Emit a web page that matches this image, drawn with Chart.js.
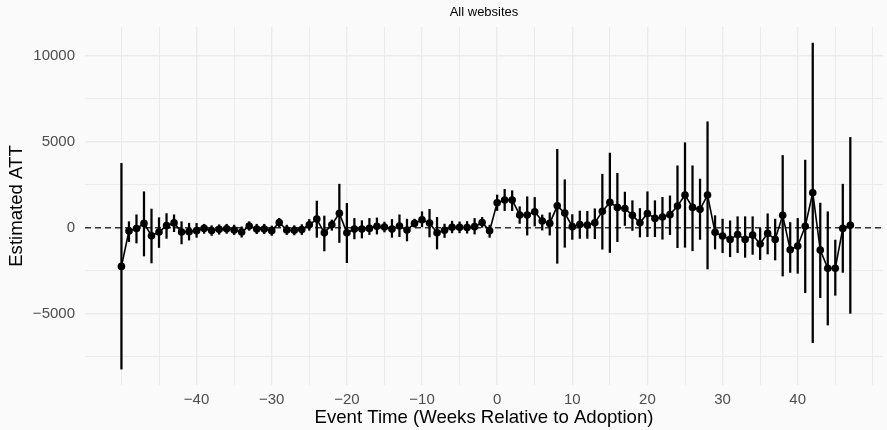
<!DOCTYPE html>
<html>
<head>
<meta charset="utf-8">
<script src="https://cdn.jsdelivr.net/npm/chart.js@4/dist/chart.umd.min.js"></script>
<style>
  html, body { margin: 0; padding: 0; background: #FAFAFA; }
  canvas { display: block; }
</style>
</head>
<body>
<canvas id="c" width="887" height="430"></canvas>
<script>
// ---- data ----
const eventTime = [-50,-49,-48,-47,-46,-45,-44,-43,-42,-41,-40,-39,-38,-37,-36,-35,-34,-33,-32,-31,
  -30,-29,-28,-27,-26,-25,-24,-23,-22,-21,-20,-19,-18,-17,-16,-15,-14,-13,-12,-11,
  -10,-9,-8,-7,-6,-5,-4,-3,-2,-1,0,1,2,3,4,5,6,7,8,9,
  10,11,12,13,14,15,16,17,18,19,20,21,22,23,24,25,26,27,28,29,
  30,31,32,33,34,35,36,37,38,39,40,41,42,43,44,45,46,47];
const att = [-2250,-190,-50,250,-465,-250,120,280,-250,-230,-170,-40,-160,-95,-60,-130,-250,100,-80,-80,
  -170,300,-130,-150,-110,170,500,-300,170,840,-300,-80,-80,-40,80,40,-80,100,-140,250,
  460,270,-290,-150,30,20,10,60,300,-180,1450,1610,1610,740,740,930,390,250,1270,850,
  60,180,160,290,950,1470,1180,1120,720,290,830,540,620,760,1260,1900,1180,1070,1900,-270,
  -485,-680,-400,-680,-430,-950,-330,-680,720,-1280,-1060,80,2035,-1300,-2360,-2360,-40,140];
const ciLower = [-8220,-810,-890,-1645,-2050,-1150,-620,-230,-940,-720,-560,-330,-450,-380,-330,-400,-550,-150,-350,-350,
  -450,0,-400,-420,-400,-150,-560,-1350,-150,-860,-2030,-650,-600,-400,-370,-250,-560,-520,-770,0,
  50,-540,-1240,-570,-300,-300,-320,-370,20,-560,1000,990,990,250,-430,100,-140,-430,-2070,-1140,
  -680,-620,-620,-640,-1250,-1440,-810,130,-160,-540,-520,-520,-670,-400,-1160,-1140,-1340,-680,-2400,-1240,
  -1450,-1690,-1450,-1720,-1550,-1850,-1530,-1880,-2810,-2600,-2650,-3780,-6690,-4070,-5660,-3930,-2600,-4980];
const ciUpper = [3740,350,750,2090,1085,580,820,750,350,260,250,200,120,170,200,150,50,350,200,200,
  100,550,150,120,180,480,1550,680,450,2530,1415,540,410,540,570,330,480,750,500,500,
  930,1070,600,210,380,340,360,540,600,150,1900,2230,2150,1220,1800,1760,740,870,4560,2790,
  760,970,950,1100,3110,4340,3160,2070,1570,1120,2090,1570,1770,1850,3600,4940,3600,2830,6160,700,
  500,400,640,640,640,-40,810,500,4200,300,540,3930,10740,1430,930,-720,2530,5250];

// ---- axes ----
const xGridValues = [-50,-45,-40,-35,-30,-25,-20,-15,-10,-5,0,5,10,15,20,25,30,35,40,45,50];
const xTickValues = [-40,-30,-20,-10,0,10,20,30,40];
const yGridValues = [-7500,-5000,-2500,0,2500,5000,7500,10000];
const yTickValues = [-5000,0,5000,10000];
const referenceValue = 0;

const chartTitle = 'All websites';
const xTitle = 'Event Time (Weeks Relative to Adoption)';
const yTitle = 'Estimated ATT';

const FONT = '"Liberation Sans", Arial, Helvetica, sans-serif';
const fmt = v => (v < 0 ? '\u2212' + Math.abs(v) : String(v));

const refLinePlugin = {
  id: 'refLine',
  beforeDatasetsDraw(chart) {
    const {ctx, chartArea, scales} = chart;
    const y = scales.y.getPixelForValue(referenceValue);
    ctx.save();
    ctx.strokeStyle = '#333333';
    ctx.lineWidth = 1.6;
    ctx.setLineDash([6, 4]);
    ctx.beginPath();
    ctx.moveTo(chartArea.left, y);
    ctx.lineTo(chartArea.right, y);
    ctx.stroke();
    ctx.restore();
  }
};

new Chart(document.getElementById('c'), {
  type: 'line',
  data: {
    datasets: [
      {
        type: 'bar',
        data: eventTime.map((x, i) => ({x: x, y: [ciLower[i], ciUpper[i]]})),
        backgroundColor: '#000000',
        borderWidth: 0,
        barThickness: 1.6,
        order: 2
      },
      {
        type: 'line',
        data: eventTime.map((x, i) => ({x: x, y: att[i]})),
        borderColor: '#000000',
        borderWidth: 1.6,
        pointRadius: 3.8,
        pointBackgroundColor: '#000000',
        pointBorderWidth: 0,
        tension: 0,
        order: 1
      }
    ]
  },
  options: {
    responsive: false,
    animation: false,
    devicePixelRatio: 1,
    layout: { padding: 0 },
    plugins: {
      legend: { display: false },
      tooltip: { enabled: false },
      title: {
        display: true,
        text: chartTitle,
        fullSize: false,
        color: '#000000',
        font: { family: FONT, size: 13, weight: 'normal', lineHeight: 1.2 },
        padding: { top: 5, bottom: 6.4 }
      }
    },
    scales: {
      x: {
        type: 'linear',
        min: -54.85,
        max: 51.35,
        offset: false,
        afterBuildTicks: s => { s.ticks = xGridValues.map(v => ({value: v})); },
        afterFit: s => { s.height = 45; },
        border: { display: false },
        grid: {
          offset: false,
          drawTicks: false,
          color: '#EBEBEB',
          lineWidth: c => (c.tick && xTickValues.includes(c.tick.value) ? 1.4 : 1)
        },
        ticks: {
          autoSkip: false,
          maxRotation: 0,
          padding: 6,
          color: '#4D4D4D',
          font: { family: FONT, size: 15 },
          callback: v => (xTickValues.includes(v) ? fmt(v) : '')
        },
        title: {
          display: true,
          text: xTitle,
          color: '#000000',
          font: { family: FONT, size: 18.6 },
          padding: { top: 0, bottom: 1 }
        }
      },
      y: {
        type: 'linear',
        min: -9145,
        max: 11669,
        afterBuildTicks: s => { s.ticks = yGridValues.map(v => ({value: v})); },
        afterFit: s => { s.width = 85; },
        border: { display: false },
        grid: {
          drawTicks: false,
          color: '#EBEBEB',
          lineWidth: c => (c.tick && yTickValues.includes(c.tick.value) ? 1.4 : 1)
        },
        ticks: {
          padding: 10,
          color: '#4D4D4D',
          font: { family: FONT, size: 15 },
          callback: v => (yTickValues.includes(v) ? fmt(v) : '')
        },
        title: {
          display: true,
          text: yTitle,
          color: '#000000',
          font: { family: FONT, size: 18.6 },
          padding: { top: 6, bottom: 0 }
        }
      }
    }
  },
  plugins: [refLinePlugin]
});
</script>
</body>
</html>
